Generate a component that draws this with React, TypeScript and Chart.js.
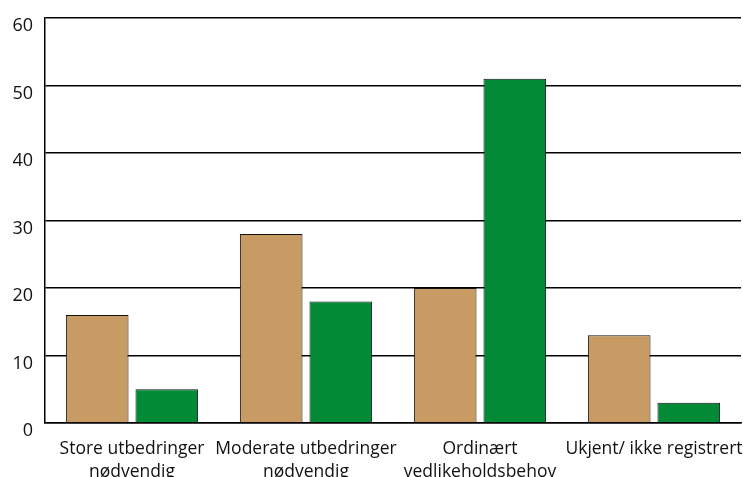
import { useEffect, useRef } from "react";
import { Chart, registerables } from "chart.js";

Chart.register(...registerables);

const categories: string[][] = [
  ["Store utbedringer", "nødvendig"],
  ["Moderate utbedringer", "nødvendig"],
  ["Ordinært", "vedlikeholdsbehov"],
  ["Ukjent/ ikke registrert"],
];
const seriesTan = [16, 28, 20, 13];
const seriesGreen = [5, 18, 51, 3];
const yMin = 0;
const yMax = 60;
const yStep = 10;

const FONT = "'Open Sans', 'DejaVu Sans', sans-serif";

export default function App() {
  const ref = useRef<HTMLCanvasElement | null>(null);

  useEffect(() => {
    if (!ref.current) return;
    const chart = new Chart(ref.current, {
      type: "bar",
      data: {
        labels: categories,
        datasets: [
          {
            label: "A",
            data: seriesTan,
            backgroundColor: "#C89B64",
            borderColor: "#111",
            borderWidth: 1,
            categoryPercentage: 0.8,
            barPercentage: 0.9,
          },
          {
            label: "B",
            data: seriesGreen,
            backgroundColor: "#038A36",
            borderColor: "#111",
            borderWidth: 1,
            categoryPercentage: 0.8,
            barPercentage: 0.9,
          },
        ],
      },
      options: {
        animation: false,
        responsive: true,
        maintainAspectRatio: false,
        layout: { padding: { top: 18, right: 2, left: 0, bottom: 0 } },
        plugins: {
          legend: { display: false },
          tooltip: { enabled: false },
          title: { display: false },
        },
        scales: {
          x: {
            grid: { display: false, drawTicks: false },
            border: { display: true, color: "#000", width: 1.5 },
            ticks: {
              color: "#111",
              font: { family: FONT, size: 17.5, lineHeight: 1.32 },
              padding: 14,
              maxRotation: 0,
              autoSkip: false,
            },
            afterFit: (s: any) => {
              s.height = 54;
              s.paddingLeft = 0;
              s.paddingRight = 0;
            },
          },
          y: {
            min: yMin,
            max: yMax,
            ticks: {
              stepSize: yStep,
              color: "#111",
              font: { family: FONT, size: 18 },
              padding: 12,
              labelOffset: 8,
            },
            grid: { color: "#000", lineWidth: 1.5, drawTicks: false },
            border: { display: true, color: "#000", width: 1.5 },
            afterFit: (s: any) => {
              s.width = 45;
              s.paddingTop = 0;
              s.paddingBottom = 0;
            },
          },
        },
      },
    });
    return () => chart.destroy();
  }, []);

  return (
    <div style={{ position: "absolute", left: 0, top: 0, width: 743, height: 477, background: "#fff" }}>
      <canvas ref={ref} />
    </div>
  );
}
